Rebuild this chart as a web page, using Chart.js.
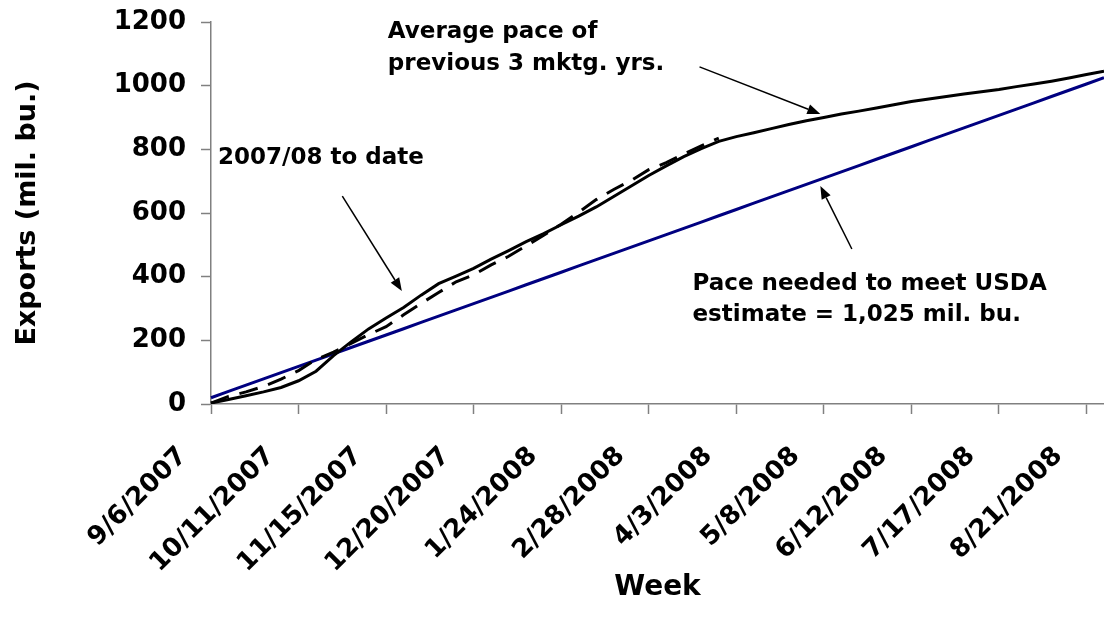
<!DOCTYPE html>
<html>
<head>
<meta charset="utf-8">
<script src="https://cdn.jsdelivr.net/npm/chart.js@4/dist/chart.umd.min.js"></script>
<style>
  html, body { margin: 0; padding: 0; background: #ffffff; }
  #wrap { width: 1104px; height: 631px; position: relative; }
</style>
</head>
<body>
<div id="wrap"><canvas id="chart"></canvas></div>
<script>
// Marketing-year weeks (Thursday week-ending dates)
const weeks = [
  '9/6/2007', '9/13/2007', '9/20/2007', '9/27/2007', '10/4/2007',
  '10/11/2007', '10/18/2007', '10/25/2007', '11/1/2007', '11/8/2007',
  '11/15/2007', '11/22/2007', '11/29/2007', '12/6/2007', '12/13/2007',
  '12/20/2007', '12/27/2007', '1/3/2008', '1/10/2008', '1/17/2008',
  '1/24/2008', '1/31/2008', '2/7/2008', '2/14/2008', '2/21/2008',
  '2/28/2008', '3/6/2008', '3/13/2008', '3/20/2008', '3/27/2008',
  '4/3/2008', '4/10/2008', '4/17/2008', '4/24/2008', '5/1/2008',
  '5/8/2008', '5/15/2008', '5/22/2008', '5/29/2008', '6/5/2008',
  '6/12/2008', '6/19/2008', '6/26/2008', '7/3/2008', '7/10/2008',
  '7/17/2008', '7/24/2008', '7/31/2008', '8/7/2008', '8/14/2008',
  '8/21/2008', '8/28/2008'
];

// Cumulative exports, 2007/08 marketing year to date (mil. bu.)
const currentYear = [
  3, 24, 38, 55, 78, 105, 140, 163, 190, 218,
  243, 280, 316, 350, 384, 406, 437, 464, 497, 530,
  565, 602, 642, 674, 702, 736, 758, 785, 811, 835
];

// Cumulative exports, average of the previous 3 marketing years (mil. bu.)
const avgPrevious3 = [
  3, 14, 26, 38, 52, 73, 103, 152, 195, 236,
  270, 303, 342, 378, 402, 426, 455, 482, 510, 535,
  563, 590, 619, 652, 685, 718, 748, 777, 802, 825,
  840, 852, 865, 878, 890, 900, 911, 920, 930, 940,
  950, 958, 966, 974, 981, 988, 997, 1005, 1014, 1024,
  1035, 1045
];

// Even weekly pace reaching the USDA estimate of 1,025 mil. bu.
const paceNeeded = [
  19.7, 39.4, 59.1, 78.8, 98.6, 118.3, 138.0, 157.7, 177.4, 197.1,
  216.8, 236.5, 256.3, 276.0, 295.7, 315.4, 335.1, 354.8, 374.5, 394.2,
  413.9, 433.7, 453.4, 473.1, 492.8, 512.5, 532.2, 551.9, 571.6, 591.3,
  611.1, 630.8, 650.5, 670.2, 689.9, 709.6, 729.3, 749.0, 768.8, 788.5,
  808.2, 827.9, 847.6, 867.3, 887.0, 906.7, 926.4, 946.2, 965.9, 985.6,
  1005.3, 1025.0
];

// Value axis range
const yMin = 0;
const yMax = 1200;
const yStep = 200;
// Every fifth week gets a labelled tick
const labelEvery = 5;

const FONT = "'DejaVu Sans', 'Liberation Sans', Arial, sans-serif";
const AXIS_GREY = '#808080';

// Callout notes, placed in data units (week index, mil. bu.)
const notes = [
  { lines: ['Average pace of', 'previous 3 mktg. yrs.'], week: 10.1, value: 1150, step: 100 },
  { lines: ['2007/08 to date'], week: 0.4, value: 754, step: 0 },
  { lines: ['Pace needed to meet USDA', 'estimate = 1,025 mil. bu.'], week: 27.5, value: 358, step: 98 }
];
const arrows = [
  { from: [27.9, 1059], to: [34.8, 911] },
  { from: [7.5, 653], to: [10.9, 355] },
  { from: [36.6, 487], to: [34.8, 685] }
];

const calloutPlugin = {
  id: 'callouts',
  afterDatasetsDraw(chart) {
    const { ctx, scales: { x, y } } = chart;
    ctx.save();
    ctx.fillStyle = '#000';
    ctx.font = `bold 23px ${FONT}`;
    ctx.textAlign = 'left';
    ctx.textBaseline = 'alphabetic';
    notes.forEach(n => {
      n.lines.forEach((t, i) => {
        ctx.fillText(t, x.getPixelForValue(n.week), y.getPixelForValue(n.value - i * n.step));
      });
    });
    ctx.strokeStyle = '#000';
    ctx.lineWidth = 1.5;
    arrows.forEach(a => {
      const x0 = x.getPixelForValue(a.from[0]), y0 = y.getPixelForValue(a.from[1]);
      const x1 = x.getPixelForValue(a.to[0]), y1 = y.getPixelForValue(a.to[1]);
      const ang = Math.atan2(y1 - y0, x1 - x0);
      const head = 13, half = 5;
      const bx = x1 - head * Math.cos(ang), by = y1 - head * Math.sin(ang);
      ctx.beginPath();
      ctx.moveTo(x0, y0);
      ctx.lineTo(bx, by);
      ctx.stroke();
      ctx.beginPath();
      ctx.moveTo(x1, y1);
      ctx.lineTo(bx + half * Math.sin(ang), by - half * Math.cos(ang));
      ctx.lineTo(bx - half * Math.sin(ang), by + half * Math.cos(ang));
      ctx.closePath();
      ctx.fill();
    });
    ctx.restore();
  }
};

new Chart(document.getElementById('chart'), {
  type: 'line',
  data: {
    labels: weeks,
    datasets: [
      {
        label: '2007/08 to date',
        data: currentYear,
        borderColor: '#000000',
        borderWidth: 3,
        borderDash: [19, 11],
        pointRadius: 0,
        tension: 0,
        fill: false
      },
      {
        label: 'Average pace of previous 3 mktg. yrs.',
        data: avgPrevious3,
        borderColor: '#000000',
        borderWidth: 3,
        pointRadius: 0,
        tension: 0,
        fill: false
      },
      {
        label: 'Pace needed to meet USDA estimate',
        data: paceNeeded,
        borderColor: '#000080',
        borderWidth: 3,
        pointRadius: 0,
        tension: 0,
        fill: false
      }
    ]
  },
  options: {
    responsive: true,
    maintainAspectRatio: false,
    animation: false,
    layout: { padding: { top: 22, right: 0, left: 0, bottom: 0 } },
    plugins: {
      legend: { display: false },
      tooltip: { enabled: false },
      title: { display: false }
    },
    scales: {
      x: {
        type: 'category',
        offset: false,
        border: { display: true, color: AXIS_GREY, width: 1.5 },
        grid: {
          display: true,
          drawOnChartArea: false,
          drawTicks: true,
          tickLength: 10,
          tickWidth: 1.5,
          tickColor: ctx => (ctx.index % labelEvery === 0 ? AXIS_GREY : 'rgba(0,0,0,0)')
        },
        ticks: {
          autoSkip: false,
          minRotation: 45,
          maxRotation: 45,
          padding: 27,
          labelOffset: -28,
          color: '#000',
          font: { family: FONT, size: 26, weight: 'bold' },
          callback: (v, i) => (i % labelEvery === 0 ? weeks[i] : '')
        },
        title: {
          display: true,
          text: 'Week',
          color: '#000',
          font: { family: FONT, size: 28, weight: 'bold' },
          padding: { top: 0, bottom: 26 }
        },
        afterFit: s => { s.height = 227; s.paddingRight = 0; s.paddingLeft = 0; }
      },
      y: {
        min: yMin,
        max: yMax,
        border: { display: true, color: AXIS_GREY, width: 1.5 },
        grid: {
          display: true,
          drawOnChartArea: false,
          drawTicks: true,
          tickLength: 10,
          tickWidth: 1.5,
          tickColor: AXIS_GREY
        },
        ticks: {
          stepSize: yStep,
          padding: 15,
          color: '#000',
          font: { family: FONT, size: 26, weight: 'bold' },
          callback: v => String(v)
        },
        title: {
          display: true,
          text: 'Exports (mil. bu.)',
          color: '#000',
          font: { family: FONT, size: 27, weight: 'bold' },
          padding: { top: 12, bottom: 0 }
        },
        afterFit: s => { s.width = 211; s.paddingTop = 0; s.paddingBottom = 0; }
      }
    }
  },
  plugins: [calloutPlugin]
});
</script>
</body>
</html>
